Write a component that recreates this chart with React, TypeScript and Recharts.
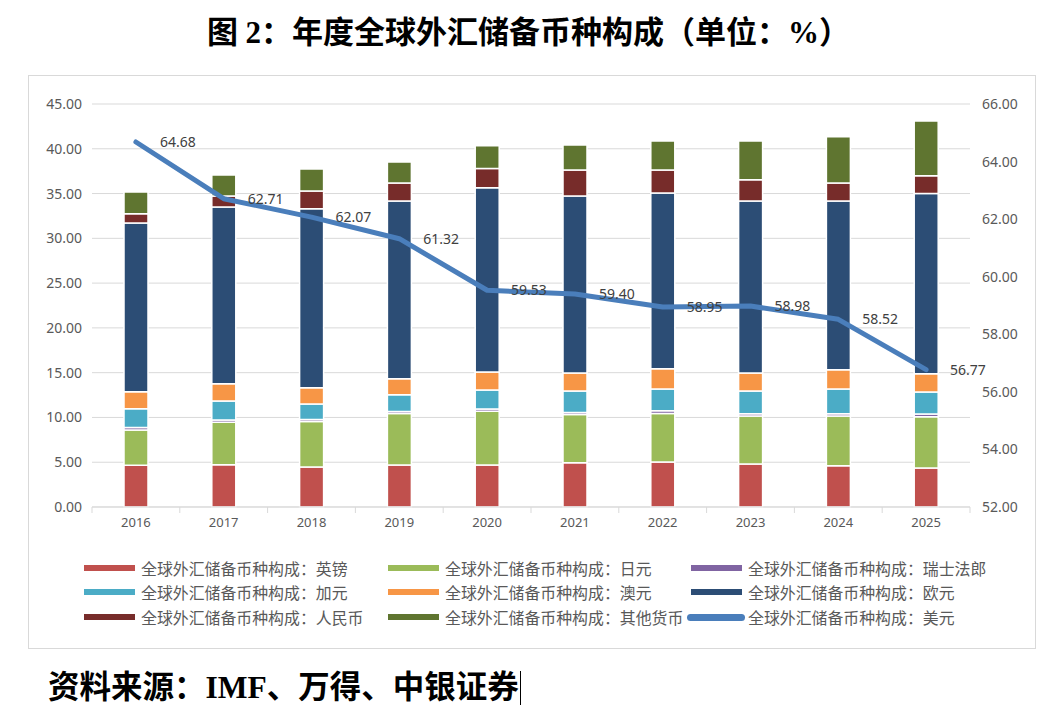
import React from "react";
import {
  ComposedChart,
  Bar,
  Line,
  XAxis,
  YAxis,
  CartesianGrid,
  LabelList,
} from "recharts";

const years = ["2016", "2017", "2018", "2019", "2020", "2021", "2022", "2023", "2024", "2025"];

const gbp = [4.67, 4.72, 4.47, 4.69, 4.69, 4.95, 5.02, 4.8, 4.62, 4.35];
const jpy = [3.93, 4.75, 5.08, 5.76, 5.99, 5.38, 5.43, 5.35, 5.53, 5.73];
const chf = [0.28, 0.25, 0.23, 0.22, 0.27, 0.22, 0.3, 0.27, 0.27, 0.3];
const cad = [2.1, 2.12, 1.72, 1.87, 2.11, 2.4, 2.43, 2.53, 2.76, 2.46];
const aud = [1.9, 1.93, 1.82, 1.79, 2.01, 2.01, 2.27, 2.01, 2.15, 2.05];
const eur = [18.83, 19.73, 19.99, 19.84, 20.59, 19.76, 19.61, 19.21, 18.84, 20.13];
const rmb = [1.04, 1.23, 1.97, 2.01, 2.14, 2.91, 2.57, 2.38, 2.01, 1.97];
const other = [2.42, 2.34, 2.46, 2.34, 2.55, 2.79, 3.24, 4.32, 5.17, 6.11];
const usd = [64.68, 62.71, 62.07, 61.32, 59.53, 59.4, 58.95, 58.98, 58.52, 56.77];

const leftTicks = [0, 5, 10, 15, 20, 25, 30, 35, 40, 45];
const rightTicks = [52, 54, 56, 58, 60, 62, 64, 66];

const prefix = "全球外汇储备币种构成：";

const barSeries = [
  { key: "gbp", name: "英镑", color: "#C0504D" },
  { key: "jpy", name: "日元", color: "#9BBB59" },
  { key: "chf", name: "瑞士法郎", color: "#8064A2" },
  { key: "cad", name: "加元", color: "#4BACC6" },
  { key: "aud", name: "澳元", color: "#F79646" },
  { key: "eur", name: "欧元", color: "#2C4D75" },
  { key: "rmb", name: "人民币", color: "#772C2A" },
  { key: "other", name: "其他货币", color: "#5F7530" },
];
const lineColor = "#4A7EBB";

const data = years.map((year, i) => ({
  year,
  gbp: gbp[i],
  jpy: jpy[i],
  chf: chf[i],
  cad: cad[i],
  aud: aud[i],
  eur: eur[i],
  rmb: rmb[i],
  other: other[i],
  usd: usd[i],
}));

// legend order as in the reference (3 columns, row-major)
const legendItems = [
  ...barSeries.map((s) => ({ name: s.name, color: s.color, line: false })),
  { name: "美元", color: lineColor, line: true },
];
const legendCols = [84, 388, 691];
const legendRows = [568, 592, 617];

const font = "'Noto Sans', 'Noto Sans CJK SC', sans-serif";
const serif = "'Liberation Serif', 'Noto Sans CJK SC', serif";

const XTick = (props: any) => {
  const { x, y, payload, index, visibleTicksCount } = props;
  const off = payload.offset || 0;
  const axisY = y - 11;
  return (
    <g>
      <line x1={x - off} x2={x - off} y1={axisY} y2={axisY + 6} stroke="#D9D9D9" />
      {index === visibleTicksCount - 1 && (
        <line x1={x + off} x2={x + off} y1={axisY} y2={axisY + 6} stroke="#D9D9D9" />
      )}
      <text x={x} y={y} dy="0.71em" textAnchor="middle" fill="#595959" fontSize={13} fontFamily={font}>
        {payload.value}
      </text>
    </g>
  );
};

export default function App() {
  return (
    <div style={{ position: "absolute", left: 0, top: 0, width: 1057, height: 715, background: "#fff" }}>
      <div
        style={{
          position: "absolute",
          left: 0,
          width: 1057,
          top: 13,
          textAlign: "center",
          fontFamily: serif,
          fontWeight: 700,
          fontSize: 31,
          lineHeight: "40px",
          color: "#000",
        }}
      >
        图 2：年度全球外汇储备币种构成（单位：%）
      </div>

      <div
        style={{
          position: "absolute",
          left: 28,
          top: 75,
          width: 1006,
          height: 572,
          border: "1px solid #D9D9D9",
        }}
      />

      <div style={{ position: "absolute", left: 28, top: 75 }}>
        <ComposedChart
          width={1008}
          height={470}
          data={data}
          margin={{ top: 29, right: 4, bottom: 8, left: 4 }}
        >
          <CartesianGrid yAxisId="left" vertical={false} stroke="#D9D9D9" />
          <XAxis
            dataKey="year"
            axisLine={{ stroke: "#D9D9D9" }}
            tickLine={false}
            tickSize={5}
            tickMargin={6}
            height={30}
            tick={<XTick />}
            interval={0}
          />
          <YAxis
            yAxisId="left"
            width={60}
            domain={[0, 45]}
            ticks={leftTicks}
            tickFormatter={(v: number) => v.toFixed(2)}
            axisLine={false}
            tickLine={false}
            tickSize={0}
            tickMargin={10}
            tick={{ fill: "#595959", fontSize: 14, fontFamily: font }}
          />
          <YAxis
            yAxisId="right"
            orientation="right"
            width={62}
            domain={[52, 66]}
            ticks={rightTicks}
            tickFormatter={(v: number) => v.toFixed(2)}
            axisLine={false}
            tickLine={false}
            tickSize={0}
            tickMargin={12}
            tick={{ fill: "#595959", fontSize: 14, fontFamily: font }}
          />
          {barSeries.map((s) => (
            <Bar
              key={s.key}
              yAxisId="left"
              dataKey={s.key}
              stackId="a"
              fill={s.color}
              stroke="#fff"
              strokeWidth={1.5}
              barSize={24}
              isAnimationActive={false}
            />
          ))}
          <Line
            yAxisId="right"
            type="linear"
            dataKey="usd"
            stroke={lineColor}
            strokeWidth={5}
            strokeLinejoin="round"
            strokeLinecap="round"
            dot={false}
            activeDot={false}
            isAnimationActive={false}
          >
            <LabelList
              dataKey="usd"
              position="right"
              offset={24}
              formatter={(v: any) => Number(v).toFixed(2)}
              fill="#404040"
              fontSize={14}
              fontFamily={font}
            />
          </Line>
        </ComposedChart>
      </div>

      {legendItems.map((item, i) => {
        const col = i % 3;
        const row = Math.floor(i / 3);
        const x = legendCols[col];
        const y = legendRows[row];
        return (
          <div
            key={item.name}
            style={{
              position: "absolute",
              left: x,
              top: y - 12,
              height: 24,
              display: "flex",
              alignItems: "center",
              whiteSpace: "nowrap",
            }}
          >
            {item.line ? (
              <span
                style={{
                  display: "inline-block",
                  width: 58,
                  height: 7,
                  borderRadius: 3.5,
                  background: item.color,
                  marginLeft: -4,
                  marginRight: 3,
                }}
              />
            ) : (
              <span style={{ display: "inline-block", width: 51, height: 6, background: item.color, marginRight: 6 }} />
            )}
            <span style={{ fontFamily: font, fontSize: 15.9, color: "#595959" }}>
              {prefix}
              {item.name}
            </span>
          </div>
        );
      })}

      <div
        style={{
          position: "absolute",
          left: 48,
          top: 668,
          fontFamily: serif,
          fontWeight: 700,
          fontSize: 31.5,
          lineHeight: "40px",
          color: "#000",
          display: "flex",
          alignItems: "center",
        }}
      >
        资料来源：IMF、万得、中银证券
        <span style={{ display: "inline-block", width: 1.5, height: 34, background: "#000", marginLeft: 1 }} />
      </div>
    </div>
  );
}
